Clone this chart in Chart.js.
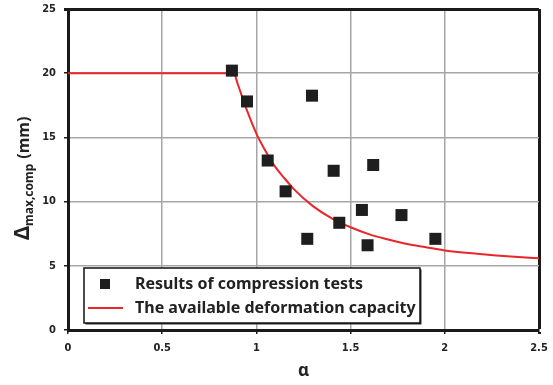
<!DOCTYPE html>
<html>
<head>
<meta charset="utf-8">
<script src="https://cdn.jsdelivr.net/npm/chart.js@4/dist/chart.umd.min.js"></script>
<style>
  html, body { margin: 0; padding: 0; background: #fff; }
  #wrap { position: relative; width: 553px; height: 385px; }
</style>
</head>
<body>
<div id="wrap"><canvas id="scatter-chart" width="553" height="385"></canvas></div>
<script>
// compression tests
const alphaTests = [0.87, 0.95, 1.06, 1.155, 1.295, 1.27, 1.41, 1.44, 1.56, 1.59, 1.62, 1.77, 1.95];
const deltaTests = [20.2, 17.8, 13.2, 10.8, 18.25, 7.1, 12.4, 8.35, 9.35, 6.6, 12.85, 8.95, 7.1];

// available deformation capacity
const alphaCurve = [0, 0.88, 0.9, 0.95, 1.0, 1.05, 1.1, 1.15, 1.2, 1.3, 1.4, 1.5, 1.6, 1.7, 1.8, 1.9, 2.0, 2.2, 2.35, 2.5];
const deltaCurve = [20, 20, 19.2, 17.1, 15.3, 13.9, 12.7, 11.8, 10.95, 9.65, 8.7, 8.0, 7.45, 7.05, 6.7, 6.45, 6.2, 5.9, 5.72, 5.58];

const xTicks = [0, 0.5, 1, 1.5, 2, 2.5];
const yTicks = [0, 5, 10, 15, 20, 25];

const labels = ["Results of compression tests", "The available deformation capacity"];

const tickFont = { family: "'DejaVu Sans Condensed', 'DejaVu Sans'", size: 11, weight: "bold" };
const gridGray = "#a6a6a6";

// y title with subscript + legend box
const extras = {
  id: "extras",
  afterDraw(chart) {
    const ctx = chart.ctx;
    // y axis title
    ctx.save();
    ctx.translate(29, 240);
    ctx.rotate(-Math.PI / 2);
    ctx.fillStyle = "#222";
    ctx.textBaseline = "alphabetic";
    ctx.textAlign = "left";
    ctx.font = "bold 21px 'Noto Sans'";
    ctx.fillText("\u0394", 0, 0);
    let x = ctx.measureText("\u0394").width;
    ctx.font = "bold 12px 'Noto Sans'";
    ctx.fillText("max,comp", x, 4);
    x += ctx.measureText("max,comp").width + 5;
    ctx.font = "bold 16px 'Noto Sans'";
    ctx.fillText("(mm)", x, 0);
    ctx.restore();

    // legend
    const bx = 84, by = 268, bw = 336, bh = 55;
    ctx.save();
    ctx.fillStyle = "#333";
    ctx.fillRect(bx + 1.5, by + 1.5, bw, bh);
    ctx.fillStyle = "#fff";
    ctx.fillRect(bx, by, bw, bh);
    ctx.strokeStyle = "#111";
    ctx.lineWidth = 1.5;
    ctx.strokeRect(bx, by, bw, bh);

    const ds = chart.data.datasets;
    ctx.fillStyle = ds[0].backgroundColor;
    ctx.fillRect(100, 279, 10, 10);
    ctx.strokeStyle = ds[1].borderColor;
    ctx.lineWidth = 2;
    ctx.beginPath();
    ctx.moveTo(88, 308);
    ctx.lineTo(123, 308);
    ctx.stroke();

    ctx.fillStyle = "#222";
    ctx.font = "bold 16px 'Noto Sans'";
    ctx.textBaseline = "middle";
    ctx.fillText(ds[0].label, 135, 284);
    ctx.fillText(ds[1].label, 135, 308);
    ctx.restore();
  }
};

let ctx = document.getElementById("scatter-chart").getContext("2d");
window.myChart = new Chart(ctx, {
  type: "scatter",
  data: {
    datasets: [
      {
        label: labels[0],
        data: alphaTests.map((a, i) => ({ x: a, y: deltaTests[i] })),
        pointStyle: "rect",
        pointRadius: 8.5,
        backgroundColor: "#1e1e1e",
        borderColor: "#1e1e1e",
        borderWidth: 0,
        order: 1,
      },
      {
        label: labels[1],
        data: alphaCurve.map((a, i) => ({ x: a, y: deltaCurve[i] })),
        showLine: true,
        pointRadius: 0,
        borderColor: "#e8262b",
        borderWidth: 2,
        cubicInterpolationMode: "monotone",
        order: 2,
      },
    ],
  },
  options: {
    responsive: false,
    animation: false,
    layout: { padding: { top: 9, right: 14, left: 0, bottom: 0 } },
    plugins: { legend: { display: false }, tooltip: { enabled: false } },
    scales: {
      x: {
        type: "linear",
        min: 0,
        max: 2.5,
        afterBuildTicks: (s) => { s.ticks = xTicks.map((v) => ({ value: v })); },
        afterFit: (s) => { s.height = 55; s.paddingLeft = 0; s.paddingRight = 0; },
        grid: {
          color: (c) => (c.tick && c.tick.value === 2.5 ? "#1a1a1a" : gridGray),
          lineWidth: (c) => (c.tick && c.tick.value === 2.5 ? 3 : 1.5),
          tickColor: "#1a1a1a",
          tickLength: 4,
        },
        border: { color: "#1a1a1a", width: 3 },
        ticks: { color: "#222", font: tickFont, padding: 8, callback: (v) => String(v) },
        title: {
          display: true,
          text: "\u03b1",
          color: "#222",
          font: { family: "'Noto Sans'", size: 17, weight: "bold" },
          padding: { top: 0 },
        },
      },
      y: {
        type: "linear",
        min: 0,
        max: 25,
        afterBuildTicks: (s) => { s.ticks = yTicks.map((v) => ({ value: v })); },
        afterFit: (s) => { s.width = 68; s.paddingTop = 0; s.paddingBottom = 0; },
        grid: {
          color: (c) => (c.tick && c.tick.value === 25 ? "#1a1a1a" : gridGray),
          lineWidth: (c) => (c.tick && c.tick.value === 25 ? 3 : 1.5),
          tickColor: "#1a1a1a",
          tickLength: 4,
        },
        border: { color: "#1a1a1a", width: 3 },
        ticks: { color: "#222", font: tickFont, padding: 8 },
      },
    },
  },
  plugins: [extras],
});
</script>
</body>
</html>
